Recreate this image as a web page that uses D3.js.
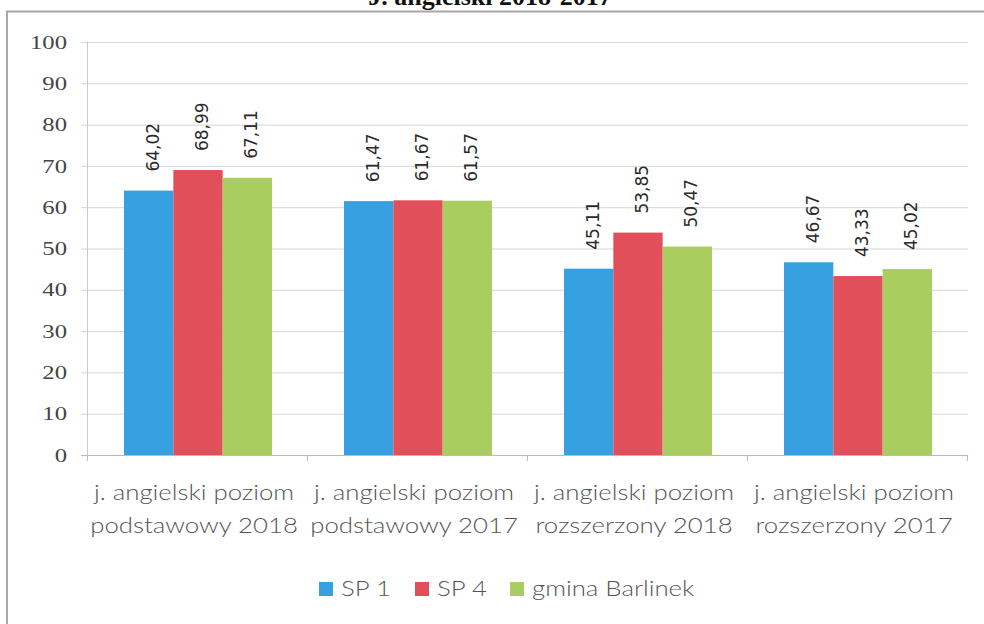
<!DOCTYPE html>
<html><head><meta charset="utf-8">
<script src="https://cdn.jsdelivr.net/npm/d3@7"></script>
<style>html,body{margin:0;padding:0;background:#fff;}svg{display:block;}</style>
</head><body>
<script>
const title = "J. angielski 2018-2017";
const categories = [
  ["j. angielski poziom", "podstawowy 2018"],
  ["j. angielski poziom", "podstawowy 2017"],
  ["j. angielski poziom", "rozszerzony 2018"],
  ["j. angielski poziom", "rozszerzony 2017"]
];
const seriesNames = ["SP 1", "SP 4", "gmina Barlinek"];
const sp1 = [64.02, 61.47, 45.11, 46.67];
const sp4 = [68.99, 61.67, 53.85, 43.33];
const gmina = [67.11, 61.57, 50.47, 45.02];
const colors = ["#37a0e1", "#e1505a", "#aacd5f"];
const yTicks = [0, 10, 20, 30, 40, 50, 60, 70, 80, 90, 100];

(function () {
const W = 984, H = 624;
const svg = d3.select("body").append("svg").attr("width", W).attr("height", H);

// frame
svg.append("path").attr("d", `M7,${H} L7,11.5 L${W},11.5`)
  .attr("fill", "none").attr("stroke", "#a8a8a8").attr("stroke-width", 2);

// partially visible title (cut by the top edge as in the reference)
svg.append("text").attr("x", 490).attr("y", 5).attr("text-anchor", "middle")
  .attr("font-family", "Liberation Serif").attr("font-weight", "bold").attr("font-size", 26)
  .attr("fill", "#111").text(title);

const pL = 88, pR = 968, pT = 42, pB = 455;
const x0 = d3.scaleBand().domain(d3.range(categories.length)).range([pL, pR]).paddingInner(0).paddingOuter(0);
const x1 = d3.scaleBand().domain(d3.range(seriesNames.length)).range([0, x0.bandwidth()]).paddingOuter(0.73).paddingInner(0);
const y = d3.scaleLinear().domain([0, 100]).range([pB, pT]);

// gridlines
svg.append("g").selectAll("line").data(yTicks).join("line")
  .attr("x1", pL - 7).attr("x2", pR).attr("y1", d => y(d) + 0.5).attr("y2", d => y(d) + 0.5)
  .attr("stroke", d => d === 0 ? "#b8b8c8" : "#d6d6d6").attr("stroke-width", 1);

// y axis line
svg.append("line").attr("x1", pL - 0.5).attr("x2", pL - 0.5).attr("y1", pT).attr("y2", pB)
  .attr("stroke", "#c8c8d8");

// y labels
const yl = svg.append("g");
yTicks.forEach(t => {
  yl.append("text").attr("transform", `translate(67,${y(t)}) scale(1.3,1)`)
    .attr("text-anchor", "end").attr("dy", "0.35em")
    .attr("font-family", "Liberation Serif").attr("font-size", 19).attr("fill", "#444")
    .text(t);
});

// x ticks at category boundaries
const bounds = d3.range(categories.length + 1).map(i => i < categories.length ? x0(i) : x0(categories.length - 1) + x0.bandwidth());
svg.append("g").selectAll("line").data(bounds).join("line")
  .attr("x1", d => d - 0.5).attr("x2", d => d - 0.5).attr("y1", pB).attr("y2", pB + 6)
  .attr("stroke", "#b8b8c8");

// bars
const series = [sp1, sp4, gmina];
const gBars = svg.append("g");
series.forEach((vals, si) => {
  gBars.selectAll(null).data(vals).join("rect")
    .attr("x", (d, i) => x0(i) + x1(si))
    .attr("y", d => y(d))
    .attr("width", x1.bandwidth())
    .attr("height", d => pB - y(d))
    .attr("fill", colors[si]);
});

// data labels (rotated)
series.forEach((vals, si) => {
  gBars.selectAll(null).data(vals).join("text")
    .attr("transform", (d, i) => `translate(${x0(i) + x1(si) + x1.bandwidth() / 2 + 4},${y(d) - 19}) rotate(-90)`)
    .attr("dy", "0.35em")
    .attr("font-family", "DejaVu Sans").attr("font-size", 17).attr("fill", "#2a2a2a")
    .text(d => d.toFixed(2).replace(".", ","));
});

// category labels
const cl = svg.append("g");
categories.forEach((lines, i) => {
  lines.forEach((ln, li) => {
    cl.append("text")
      .attr("transform", `translate(${x0(i) + x0.bandwidth() / 2 - 4},${500 + li * 33}) scale(1.2,1)`)
      .attr("text-anchor", "middle")
      .attr("font-family", "Lato").attr("font-weight", 300).attr("font-size", 21.5).attr("fill", "#555")
      .text(ln);
  });
});

// legend
const legX = [319, 415, 510];
const lg = svg.append("g");
seriesNames.forEach((n, i) => {
  lg.append("rect").attr("x", legX[i]).attr("y", 582).attr("width", 14).attr("height", 14).attr("fill", colors[i]);
  lg.append("text").attr("transform", `translate(${legX[i] + 22},596) scale(1.2,1)`)
    .attr("font-family", "Lato").attr("font-weight", 300).attr("font-size", 21.5).attr("fill", "#555").text(n);
});
})();
</script>
</body></html>
